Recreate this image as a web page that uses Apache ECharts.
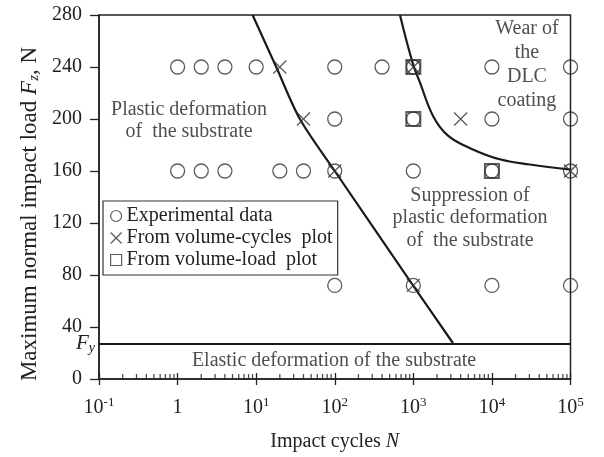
<!DOCTYPE html>
<html><head><meta charset="utf-8">
<script src="https://cdn.jsdelivr.net/npm/echarts@6/dist/echarts.min.js"></script>
<style>html,body{margin:0;padding:0;background:#fff}#c{width:604px;height:457px}</style>
</head><body><div id="c"></div>
<script>
const experimentalData = [
  [1,240],[2,240],[4,240],[10,240],[100,240],[400,240],[1000,240],[10000,240],[100000,240],
  [100,200],[1000,200],[10000,200],[100000,200],
  [1,160],[2,160],[4,160],[20,160],[40,160],[100,160],[1000,160],[10000,160],[100000,160],
  [100,72],[1000,72],[10000,72],[100000,72]
];
const volumeCyclesData = [[20,240],[1000,240],[40,200],[4000,200],[100,160],[100000,160],[1000,72]];
const volumeLoadData = [[1000,240],[1000,200],[10000,160]];
const plasticBoundary = [[9.0,280],[18,240],[36,200],[100,160],[990,72],[3200,27.5]];
const wearBoundary = [[676,280],[982,243],[1216,228],[1795,202],[2787,187],[5530,177],[12600,169],[30500,165],[100000,161]];
const yieldLoad = 27.5;
const xTickLabels = ['10^-1','1','10^1','10^2','10^3','10^4','10^5'];
const minorMultipliers = [2,3,4,5,6,7,8,9];
const minorDecades = [0.1,1,10,100,1000,10000];

const FONT = 'Liberation Serif';
const INK = '#222';
const minorTicks = [];
minorDecades.forEach(d => minorMultipliers.forEach(m => minorTicks.push([d*m, 0])));

function xLabel(v, i) {
  const s = xTickLabels[i] || '';
  const p = s.split('^');
  return p.length > 1 ? '{b|' + p[0] + '}{s|' + p[1] + '}' : '{b|' + p[0] + '}';
}

const chart = echarts.init(document.getElementById('c'));
const markerStyle = {color: 'rgba(0,0,0,0)', borderColor: '#333', borderWidth: 1.3};
chart.setOption({
  animation: false,
  backgroundColor: '#fff',
  textStyle: {fontFamily: FONT, color: INK},
  grid: {left: 99, right: 33.5, top: 15, bottom: 76, show: true, borderColor: INK, borderWidth: 1.5, backgroundColor: 'transparent'},
  legend: {
    left: 103, top: 201, orient: 'vertical', itemWidth: 11, itemHeight: 11, itemGap: 2,
    padding: [5, 5, 5, 7], borderColor: '#333', borderWidth: 1.2,
    textStyle: {fontFamily: FONT, fontSize: 20, color: INK, lineHeight: 20},
    data: [
      {name: 'Experimental data', itemStyle: {borderWidth: 1.2}},
      {name: 'From volume-cycles  plot', itemStyle: {borderWidth: 1.2}},
      {name: 'From volume-load  plot', itemStyle: {borderWidth: 1.2}}
    ]
  },
  xAxis: [{
    type: 'log', logBase: 10, min: 0.1, max: 100000, splitNumber: 6,
    name: '{n|Impact cycles }{i|N}', nameLocation: 'middle', nameGap: 53,
    nameTextStyle: {rich: {n: {fontFamily: FONT, fontSize: 20, color: INK}, i: {fontFamily: FONT, fontSize: 20, fontStyle: 'italic', color: INK}}},
    axisLine: {lineStyle: {color: INK, width: 1.5}},
    axisTick: {inside: false, length: 6, lineStyle: {color: INK, width: 1.3}},
    splitLine: {show: false}, minorTick: {show: false},
    axisLabel: {margin: 17, formatter: xLabel, rich: {
      b: {fontFamily: FONT, fontSize: 20, color: INK, verticalAlign: 'bottom', lineHeight: 22},
      s: {fontFamily: FONT, fontSize: 13, color: INK, verticalAlign: 'bottom', lineHeight: 22, padding: [0,0,9,0]}
    }}
  }, {
    type: 'log', logBase: 10, min: 0.1, max: 100000, splitNumber: 6, position: 'bottom',
    axisLine: {show: false}, axisLabel: {show: false}, splitLine: {show: false},
    axisTick: {inside: true, length: 6, lineStyle: {color: INK, width: 1.3}}
  }],
  yAxis: {
    type: 'value', min: 0, max: 280, interval: 40,
    name: '{n|Maximum normal impact load }{i|F}{sub|z}{n|, N}', nameLocation: 'middle', nameRotate: 90, nameGap: 52,
    nameTextStyle: {padding: [0, 34, 0, 0], rich: {
      n: {fontFamily: FONT, fontSize: 23, color: INK},
      i: {fontFamily: FONT, fontSize: 23, fontStyle: 'italic', color: INK},
      sub: {fontFamily: FONT, fontSize: 15, fontStyle: 'italic', color: INK, padding: [8,0,0,0]}
    }},
    axisLine: {show: true, lineStyle: {color: INK, width: 1.5}},
    axisTick: {show: true, inside: false, length: 9, lineStyle: {color: INK, width: 1.3}},
    splitLine: {show: false},
    axisLabel: {margin: 17, fontFamily: FONT, fontSize: 20, color: INK}
  },
  series: [
    {name: 'minor', type: 'scatter', silent: true, data: minorTicks, symbol: 'rect', symbolSize: [1.3, 5], symbolOffset: [0, -2.5],
     itemStyle: {color: INK}, z: 1},
    {name: 'plastic', type: 'line', data: plasticBoundary, showSymbol: false, symbol: 'none', smooth: 0.3, silent: true,
     lineStyle: {color: '#1a1a1a', width: 2.2}, z: 2},
    {name: 'wear', type: 'line', data: wearBoundary, showSymbol: false, symbol: 'none', smooth: 0.4, silent: true,
     lineStyle: {color: '#1a1a1a', width: 2.2}, z: 2},
    {name: 'yield', type: 'line', data: [], silent: true,
     markLine: {silent: true, symbol: ['none','none'], lineStyle: {color: '#1a1a1a', width: 2.2, type: 'solid'},
       data: [{yAxis: yieldLoad}],
       label: {show: true, position: 'start', distance: 4, formatter: '{f|F}{s|y}', rich: {
         f: {fontFamily: FONT, fontSize: 21, fontStyle: 'italic', color: INK},
         s: {fontFamily: FONT, fontSize: 14, fontStyle: 'italic', color: INK, padding: [10,0,0,0]}
       }}
     }},
    {name: 'Experimental data', type: 'scatter', data: experimentalData, symbol: 'circle', symbolSize: 14, itemStyle: markerStyle, z: 4},
    {name: 'From volume-cycles  plot', type: 'scatter', data: volumeCyclesData, symbol: 'path://M0,0L12,12M12,0L0,12', symbolSize: 13, itemStyle: markerStyle, z: 5},
    {name: 'From volume-load  plot', type: 'scatter', data: volumeLoadData, symbol: 'rect', symbolSize: 14,
     itemStyle: {color: 'rgba(0,0,0,0)', borderColor: '#333', borderWidth: 2}, z: 5},
    {name: 'notes', type: 'scatter', silent: true, symbolSize: 0, z: 6,
     label: {show: true, position: 'inside', fontFamily: FONT, fontSize: 20, color: INK, align: 'center', verticalAlign: 'middle'},
     data: [
       {value: [1.4, 199], label: {formatter: 'Plastic deformation\nof  the substrate', lineHeight: 22}},
       {value: [27900, 242], label: {formatter: 'Wear of\nthe\nDLC\ncoating', lineHeight: 24}},
       {value: [5270, 124], label: {formatter: 'Suppression of\nplastic deformation\nof  the substrate', lineHeight: 22.5}},
       {value: [98, 14], label: {formatter: 'Elastic deformation of the substrate'}}
     ]}
  ]
});
</script></body></html>
